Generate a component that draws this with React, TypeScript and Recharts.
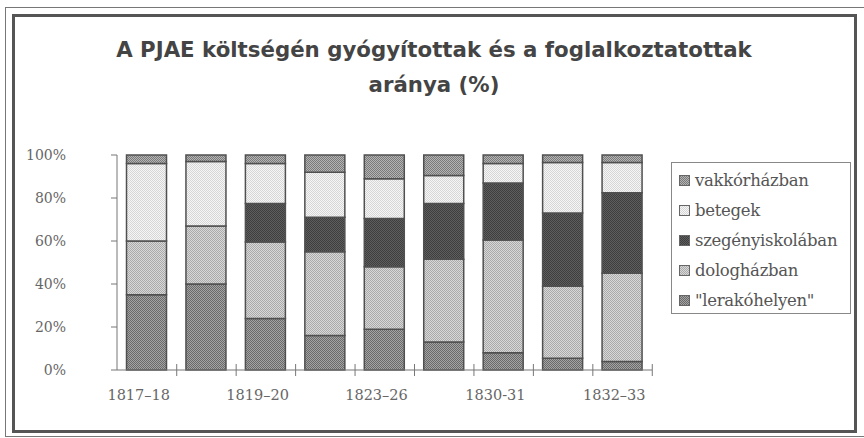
import React from "react";
import { BarChart, Bar, XAxis, YAxis } from "recharts";

// academic years (only every other one is labelled on the axis)
const periods = [
  "1817–18",
  "1818–19",
  "1819–20",
  "1820–23",
  "1823–26",
  "1826–30",
  "1830-31",
  "1831–32",
  "1832–33",
];

// shares in %, bottom of the stack first
const lerakohelyen = [35, 40, 24, 16, 19, 13, 8, 5.5, 4];
const dologhazban = [25, 27, 35.5, 39, 29, 38.5, 52.5, 33.5, 41];
const szegenyiskolaban = [0, 0, 18, 16, 22.5, 26, 26.5, 34, 37.5];
const betegek = [36, 30, 18.5, 21, 18.5, 13, 9, 23.5, 14];
const vakkorhazban = [4, 3, 4, 8, 11, 9.5, 4, 3.5, 3.5];

const yTicks = [0, 20, 40, 60, 80, 100];

const series = [
  { key: "lerak", name: "\"lerakóhelyen\"", values: lerakohelyen, dark: "#6a6a6a", light: "#a4a4a4" },
  { key: "dolog", name: "dologházban", values: dologhazban, dark: "#aaaaaa", light: "#d8d8d8" },
  { key: "szeg", name: "szegényiskolában", values: szegenyiskolaban, dark: "#3e3e3e", light: "#5e5e5e" },
  { key: "bet", name: "betegek", values: betegek, dark: "#d6d6d6", light: "#f6f6f6" },
  { key: "vakk", name: "vakkórházban", values: vakkorhazban, dark: "#7a7a7a", light: "#b4b4b4" },
];

const data = periods.map((p, i) => {
  const row: Record<string, string | number> = { period: p };
  series.forEach((s) => (row[s.key] = s.values[i]));
  return row;
});

const FONT = "'DejaVu Serif', serif";

function XTick(props: any) {
  const { x, y, payload, index } = props;
  return (
    <g>
      <line x1={x + 30} y1={y - 6} x2={x + 30} y2={y + 6} stroke="#777" />
      {index % 2 === 0 && (
        <text x={x - 8} y={y + 30} textAnchor="middle" fill="#666" fontSize={14.5} fontFamily={FONT}>
          {payload.value}
        </text>
      )}
    </g>
  );
}

export default function App() {
  return (
    <div style={{ position: "absolute", left: 0, top: 0, width: 864, height: 438, background: "#fff", overflow: "hidden" }}>
      <div style={{ position: "absolute", left: 5, top: 7, width: 870, height: 428, border: "1px solid #777" }} />
      <div style={{ position: "absolute", left: 12, top: 14, width: 839, height: 413, border: "3px solid #555" }} />
      <div
        style={{
          position: "absolute",
          left: 0,
          top: 32,
          width: 868,
          textAlign: "center",
          fontFamily: "'DejaVu Sans', sans-serif",
          fontWeight: "bold",
          fontSize: 21.3,
          lineHeight: "35px",
          color: "#444",
        }}
      >
        A PJAE költségén gyógyítottak és a foglalkoztatottak
        <br />
        aránya (%)
      </div>
      <div style={{ position: "absolute", left: 0, top: 0 }}>
        <BarChart width={864} height={438} data={data} margin={{ top: 155, right: 212, bottom: 38, left: 0 }} barCategoryGap="16%">
          <defs>
            {series.map((s) => (
              <pattern key={s.key} id={"pat-" + s.key} width={2} height={2} patternUnits="userSpaceOnUse">
                <rect width={2} height={2} fill={s.light} />
                <rect width={1} height={1} fill={s.dark} />
                <rect x={1} y={1} width={1} height={1} fill={s.dark} />
              </pattern>
            ))}
          </defs>
          <YAxis
            width={117}
            domain={[0, 100]}
            ticks={yTicks}
            tickFormatter={(v) => v + "%"}
            axisLine={{ stroke: "#777" }}
            tickLine={{ stroke: "#777" }}
            tickSize={6}
            tickMargin={45}
            tick={{ fill: "#666", fontSize: 14, fontFamily: FONT }}
          />
          <XAxis
            dataKey="period"
            interval={0}
            height={30}
            axisLine={{ stroke: "#777" }}
            tickLine={false}
            tickSize={0}
            tickMargin={0}
            tick={<XTick />}
          />
          {series.map((s) => (
            <Bar
              key={s.key}
              dataKey={s.key}
              name={s.name}
              stackId="a"
              fill={"url(#pat-" + s.key + ")"}
              stroke="#505050"
              strokeWidth={1.5}
              isAnimationActive={false}
            />
          ))}
        </BarChart>
      </div>
      <div
        style={{
          position: "absolute",
          left: 671,
          top: 162,
          width: 180,
          height: 152,
          border: "1px solid #888",
          boxSizing: "border-box",
          paddingTop: 2,
        }}
      >
        {[...series].reverse().map((s) => (
          <div key={s.key} style={{ display: "flex", alignItems: "center", height: 30, paddingLeft: 7 }}>
            <svg width={11} height={11} style={{ marginRight: 5 }}>
              <rect x={0.5} y={0.5} width={10} height={10} fill={"url(#pat-" + s.key + ")"} stroke="#666" />
            </svg>
            <span style={{ fontFamily: FONT, fontSize: 16.5, color: "#555", whiteSpace: "nowrap", letterSpacing: -0.3 }}>{s.name}</span>
          </div>
        ))}
      </div>
    </div>
  );
}
